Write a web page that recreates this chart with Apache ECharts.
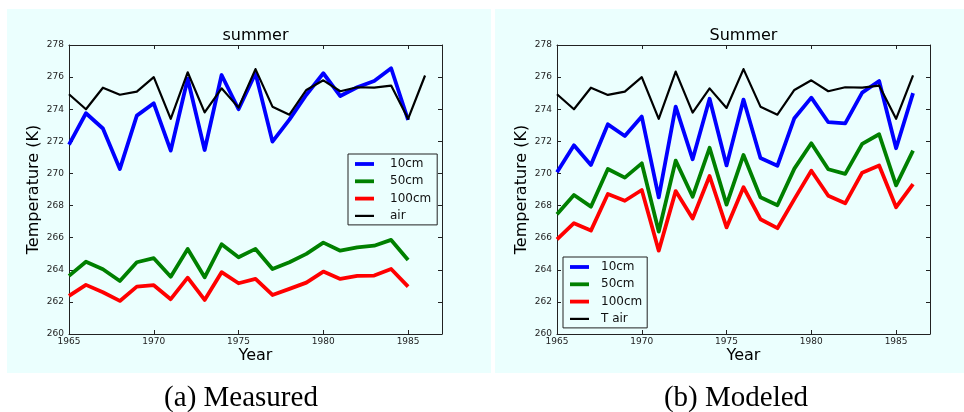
<!DOCTYPE html>
<html>
<head>
<meta charset="utf-8">
<script src="https://cdn.jsdelivr.net/npm/echarts@6/dist/echarts.min.js"></script>
<style>
html,body{margin:0;padding:0;background:#fff;}
#c{width:964px;height:412px;}
</style>
</head>
<body>
<div id="c"></div>
<script>
// ---- data ----
const years = [1965,1966,1967,1968,1969,1970,1971,1972,1973,1974,1975,1976,1977,1978,1979,1980,1981,1982,1983,1984,1985,1986];
const yTicks = [260,262,264,266,268,270,272,274,276,278];
const xTicks = [1965,1970,1975,1980,1985];

const meas10  = [271.8,273.75,272.8,270.28,273.6,274.37,271.42,275.9,271.46,276.13,274.0,276.24,271.98,273.35,274.9,276.24,274.82,275.37,275.76,276.55,273.33];
const meas50  = [263.62,264.5,264.03,263.3,264.47,264.72,263.57,265.3,263.53,265.59,264.78,265.3,264.05,264.47,264.99,265.69,265.19,265.4,265.5,265.86,264.61];
const meas100 = [262.37,263.06,262.6,262.06,262.95,263.04,262.17,263.51,262.12,263.85,263.16,263.43,262.43,262.81,263.2,263.89,263.43,263.62,263.64,264.05,262.95];
const measAir = [274.93,274.0,275.34,274.9,275.1,276.0,273.4,276.3,273.8,275.3,274.1,276.5,274.16,273.66,275.2,275.8,275.12,275.37,275.35,275.47,273.4,276.1];

const mod10  = [270.07,271.75,270.53,273.06,272.33,273.54,268.51,274.16,270.88,274.65,270.5,274.6,270.96,270.48,273.44,274.72,273.19,273.12,275.03,275.76,271.57,275.0];
const mod50  = [267.46,268.66,267.93,270.28,269.74,270.63,266.38,270.8,268.55,271.6,268.06,271.15,268.52,268.02,270.3,271.88,270.26,269.97,271.84,272.44,269.26,271.42];
const mod100 = [265.9,266.9,266.44,268.72,268.3,268.97,265.19,268.9,267.19,269.84,266.64,269.14,267.15,266.59,268.4,270.17,268.61,268.14,270.05,270.49,267.9,269.34];
const modAir = [274.93,274.0,275.34,274.89,275.1,276.0,273.4,276.34,273.79,275.3,274.08,276.5,274.16,273.66,275.2,275.8,275.12,275.37,275.35,275.47,273.4,276.11];

const leftLegend  = ['10cm','50cm','100cm','air'];
const rightLegend = ['10cm','50cm','100cm','T air'];
const titles = ['summer','Summer'];
const captions = ['(a) Measured','(b) Modeled'];

// ---- layout / style ----
const BG = '#ebfffe';
const AX = '#222';
const grids = [
  {left:69, top:45, width:373, height:289},
  {left:557, top:45, width:373, height:289}
];
const colors = {'10cm':'#0000ff','50cm':'#008000','100cm':'#ff0000','air':'#000000','T air':'#000000'};

function pair(vals){ return vals.map((v,i)=>[years[i], v]); }

const xAxes = [], yAxes = [];
grids.forEach((g,gi)=>{
  ['bottom','top'].forEach(pos=>{
    xAxes.push({
      type:'value', gridIndex:gi, position:pos, min:1965, max:1987, interval:5,
      axisLine:{show:true, onZero:false, lineStyle:{color:AX, width:1}},
      axisTick:{show:true, inside:true, length:4, lineStyle:{color:AX}},
      axisLabel:{show:pos==='bottom', margin:3, color:'#222', fontFamily:'DejaVu Sans', fontSize:9,
        formatter:v=> xTicks.indexOf(v)>=0 ? String(v) : ''},
      splitLine:{show:false}
    });
  });
  ['left','right'].forEach(pos=>{
    yAxes.push({
      type:'value', gridIndex:gi, position:pos, min:260, max:278, interval:2,
      axisLine:{show:true, onZero:false, lineStyle:{color:AX, width:1}},
      axisTick:{show:true, inside:true, length:4, lineStyle:{color:AX}},
      axisLabel:{show:pos==='left', margin:5, color:'#222', fontFamily:'DejaVu Sans', fontSize:9,
        formatter:v=> yTicks.indexOf(v)>=0 ? String(v) : ''},
      splitLine:{show:false}
    });
  });
});

function mkSeries(name, data, gi, width){
  return {
    type:'line', name:name, data:pair(data), xAxisIndex:gi*2, yAxisIndex:gi*2,
    symbol:'none', silent:true,
    lineStyle:{color:colors[name], width:width, join:'round'},
    itemStyle:{color:colors[name]}
  };
}
const series = [
  mkSeries('10cm', meas10, 0, 3.8),
  mkSeries('50cm', meas50, 0, 3.8),
  mkSeries('100cm', meas100, 0, 3.8),
  mkSeries('air', measAir, 0, 2.2),
  mkSeries('10cm', mod10, 1, 3.8),
  mkSeries('50cm', mod50, 1, 3.8),
  mkSeries('100cm', mod100, 1, 3.8),
  mkSeries('T air', modAir, 1, 2.2)
];

function legendData(names){
  return names.map(n=>({name:n, icon: (n==='air'||n==='T air') ? 'path://M0,0H19V2.2H0Z' : 'path://M0,0H19V3.8H0Z'}));
}
const legendCommon = {
  orient:'vertical', itemWidth:19, itemHeight:4, itemGap:3.3,
  borderColor:AX, borderWidth:1, borderRadius:0,
  textStyle:{fontFamily:'DejaVu Sans', fontSize:12, color:'#111', lineHeight:14},
  selectedMode:false
};

const graphics = [
  {type:'rect', z:-10, shape:{x:7, y:9, width:484, height:364}, style:{fill:BG}},
  {type:'rect', z:-10, shape:{x:495, y:9, width:469, height:364}, style:{fill:BG}}
];
grids.forEach((g,gi)=>{
  const cx = g.left + g.width/2;
  graphics.push({type:'text', x:cx, y:36, style:{text:titles[gi], font:'16px "DejaVu Sans"', fill:'#000', align:'center', verticalAlign:'middle'}});
  graphics.push({type:'text', x:cx, y:355.5, style:{text:'Year', font:'16px "DejaVu Sans"', fill:'#000', align:'center', verticalAlign:'middle'}});
  graphics.push({type:'text', x:g.left-35, y:g.top+g.height/2, rotation:Math.PI/2,
    style:{text:'Temperature (K)', font:'16px "DejaVu Sans"', fill:'#000', align:'center', verticalAlign:'middle'}});
});
graphics.push({type:'text', x:241, y:398, style:{text:captions[0], font:'29px "Liberation Serif"', fill:'#000', align:'center', verticalAlign:'middle'}});
graphics.push({type:'text', x:736, y:398, style:{text:captions[1], font:'29px "Liberation Serif"', fill:'#000', align:'center', verticalAlign:'middle'}});

const chart = echarts.init(document.getElementById('c'), null, {renderer:'canvas'});
chart.setOption({
  animation:false,
  backgroundColor:'#fff',
  grid: grids.map(g=>Object.assign({containLabel:false}, g)),
  xAxis: xAxes,
  yAxis: yAxes,
  legend: [
    Object.assign({}, legendCommon, {left:348, top:154, padding:[3,6,2,7], data:legendData(leftLegend), textStyle:Object.assign({}, legendCommon.textStyle, {padding:[0,0,0,11]})}),
    Object.assign({}, legendCommon, {left:563, top:257, padding:[3,5,2,7], data:legendData(rightLegend), textStyle:Object.assign({}, legendCommon.textStyle, {padding:[0,0,0,7]})})
  ],
  graphic: graphics,
  series: series
});
</script>
</body>
</html>
